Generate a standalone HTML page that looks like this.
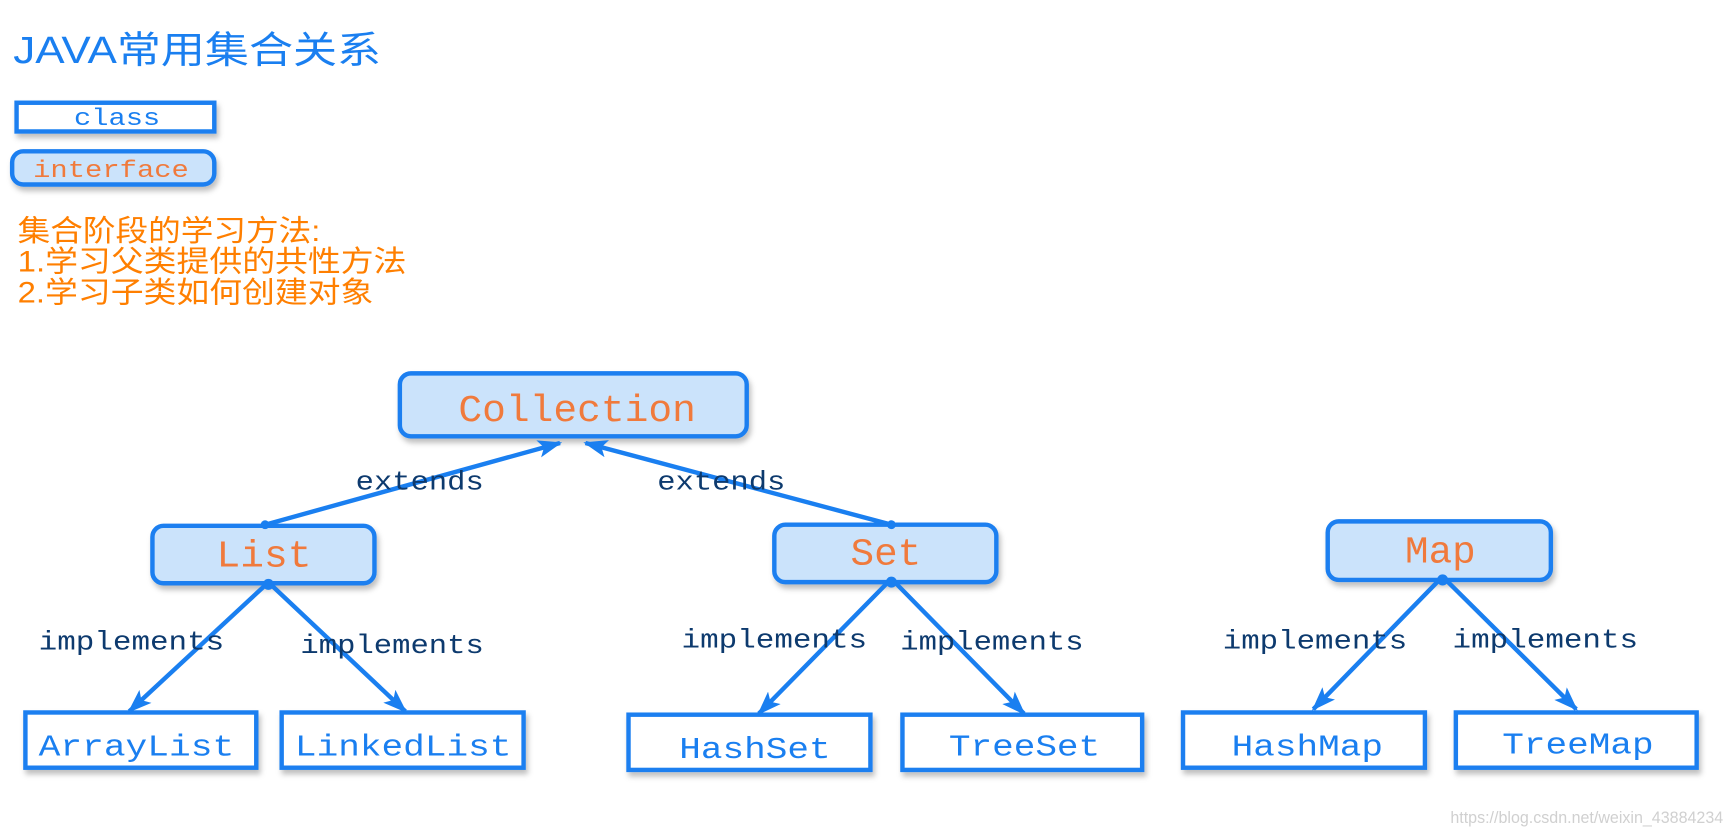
<!DOCTYPE html>
<html><head><meta charset="utf-8"><style>
html,body{margin:0;padding:0;background:#fff;width:1732px;height:834px;overflow:hidden}
text{font-family:"Liberation Mono","Noto Sans CJK SC",monospace}
.cn{font-family:"Liberation Sans","Noto Sans CJK SC",sans-serif}
</style></head><body>
<svg width="1732" height="834" viewBox="0 0 1568 755" xmlns="http://www.w3.org/2000/svg">
<defs>
<filter id="sh" x="-10%" y="-10%" width="130%" height="140%"><feDropShadow dx="2" dy="4" stdDeviation="2.5" flood-color="#000" flood-opacity="0.25"/></filter>
<marker id="ah" markerWidth="22" markerHeight="16" refX="20" refY="8" orient="auto" markerUnits="userSpaceOnUse" viewBox="0 0 22 16"><path d="M0,0 L22,8 L0,16 L5,8 z" fill="#1a7ff0"/></marker>
</defs>
<text class="cn" x="12" y="57" font-size="34" fill="#1a7ff0" textLength="333" lengthAdjust="spacingAndGlyphs">JAVA常用集合关系</text>
<g filter="url(#sh)">
<rect x="15" y="93" width="179" height="26" fill="#fff" stroke="#1a7ff0" stroke-width="4"/>
<rect x="11" y="137" width="183" height="30" rx="10" fill="#cbe3fb" stroke="#1a7ff0" stroke-width="4"/>
</g>
<text x="67" y="113" font-size="22" fill="#1a7ff0" textLength="78" lengthAdjust="spacingAndGlyphs">class</text>
<text x="30" y="160" font-size="22" fill="#f07a3c" textLength="141" lengthAdjust="spacingAndGlyphs">interface</text>
<g font-size="27" fill="#ff7f00">
<text x="16" y="218" class="cn" textLength="274" lengthAdjust="spacingAndGlyphs">集合阶段的学习方法:</text>
<text x="16" y="246" class="cn" textLength="352" lengthAdjust="spacingAndGlyphs">1.学习父类提供的共性方法</text>
<text x="16" y="274" class="cn" textLength="322" lengthAdjust="spacingAndGlyphs">2.学习子类如何创建对象</text>
</g>
<g filter="url(#sh)" fill="#cbe3fb" stroke="#1a7ff0" stroke-width="4">
<rect x="362" y="338" width="314" height="57" rx="10"/>
<rect x="138" y="476" width="201" height="52" rx="10"/>
<rect x="701" y="475" width="201" height="52" rx="10"/>
<rect x="1202" y="472" width="202" height="53" rx="10"/>
</g>
<g filter="url(#sh)" fill="#fff" stroke="#1a7ff0" stroke-width="4">
<rect x="23" y="645" width="209" height="50"/>
<rect x="255" y="645" width="219" height="50"/>
<rect x="569" y="647" width="219" height="50"/>
<rect x="817" y="647" width="217" height="50"/>
<rect x="1071" y="645" width="219" height="50"/>
<rect x="1318" y="645" width="218" height="50"/>
</g>
<g stroke="#1a7ff0" stroke-width="4" fill="none" marker-end="url(#ah)">
<line x1="240" y1="475" x2="507" y2="401"/>
<line x1="807" y1="475" x2="530" y2="401"/>
<line x1="241" y1="529" x2="117" y2="644"/>
<line x1="245" y1="529" x2="367" y2="644"/>
<line x1="804" y1="527" x2="687" y2="646"/>
<line x1="810" y1="527" x2="927" y2="646"/>
<line x1="1303" y1="525" x2="1189" y2="642"/>
<line x1="1309" y1="525" x2="1427" y2="642"/>
</g>
<g fill="#1a7ff0"><circle cx="240" cy="475" r="4"/><circle cx="807" cy="475" r="4"/><circle cx="243" cy="529" r="5"/><circle cx="807" cy="527" r="5"/><circle cx="1306" cy="525" r="5"/></g>
<g fill="#f07a3c" font-size="34">
<text x="415" y="381" textLength="215" lengthAdjust="spacingAndGlyphs">Collection</text>
<text x="196" y="513" textLength="86" lengthAdjust="spacingAndGlyphs">List</text>
<text x="770" y="511" textLength="64" lengthAdjust="spacingAndGlyphs">Set</text>
<text x="1272" y="509" textLength="64" lengthAdjust="spacingAndGlyphs">Map</text>
</g>
<g fill="#1a7ff0" font-size="28">
<text x="35" y="684" textLength="177" lengthAdjust="spacingAndGlyphs">ArrayList</text>
<text x="267" y="684" textLength="196" lengthAdjust="spacingAndGlyphs">LinkedList</text>
<text x="615" y="686" textLength="137" lengthAdjust="spacingAndGlyphs">HashSet</text>
<text x="859" y="684" textLength="137" lengthAdjust="spacingAndGlyphs">TreeSet</text>
<text x="1115" y="684" textLength="137" lengthAdjust="spacingAndGlyphs">HashMap</text>
<text x="1360" y="682" textLength="137" lengthAdjust="spacingAndGlyphs">TreeMap</text>
</g>
<g fill="#0d3a6e" font-size="24">
<text x="322" y="443" textLength="116" lengthAdjust="spacingAndGlyphs">extends</text>
<text x="595" y="443" textLength="116" lengthAdjust="spacingAndGlyphs">extends</text>
<text x="35" y="588" textLength="168" lengthAdjust="spacingAndGlyphs">implements</text>
<text x="272" y="591" textLength="166" lengthAdjust="spacingAndGlyphs">implements</text>
<text x="617" y="586" textLength="168" lengthAdjust="spacingAndGlyphs">implements</text>
<text x="815" y="588" textLength="166" lengthAdjust="spacingAndGlyphs">implements</text>
<text x="1107" y="587" textLength="167" lengthAdjust="spacingAndGlyphs">implements</text>
<text x="1315" y="586" textLength="168" lengthAdjust="spacingAndGlyphs">implements</text>
</g>
<text class="cn" x="1313" y="745" font-size="15" fill="#d0d0d0" textLength="247" lengthAdjust="spacingAndGlyphs">https://blog.csdn.net/weixin_43884234</text>
</svg>
</body></html>
